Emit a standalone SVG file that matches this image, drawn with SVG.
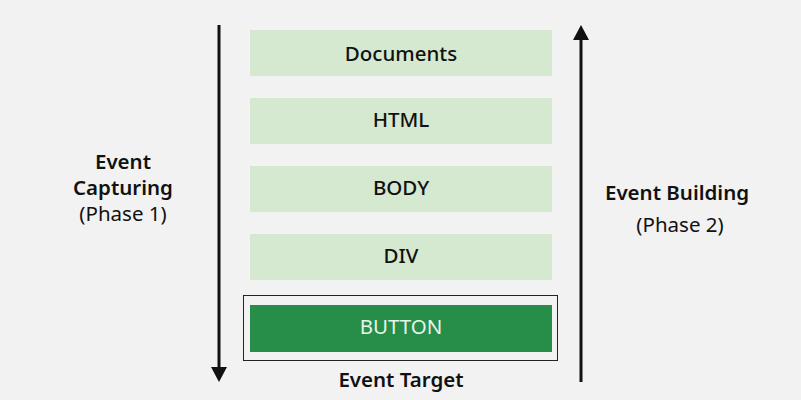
<svg xmlns="http://www.w3.org/2000/svg" width="801" height="400" viewBox="0 0 801 400">
<style>
.box{fill:#d5e8d0}
.t{font-family:"Noto Sans","Open Sans",sans-serif;font-size:20.5px;fill:#111;text-anchor:middle;font-weight:500}
.b{font-weight:600}
.n{font-weight:400}
.ln{stroke:#111;stroke-width:3;fill:none}
</style>
<rect width="801" height="400" fill="#f2f2f2"/>
<g id="connectors">
<line class="ln" x1="219" y1="25" x2="219" y2="368"/>
<polygon points="211,367 227,367 219,382" fill="#111"/>
<line class="ln" x1="581" y1="382" x2="581" y2="39"/>
<polygon points="573,40 589,40 581,25" fill="#111"/>
</g>
<g id="documents"><rect class="box" x="250" y="30" width="302" height="46"/><text class="t" x="401" y="61">Documents</text></g>
<g id="html"><rect class="box" x="250" y="98" width="302" height="46"/><text class="t" x="401" y="127">HTML</text></g>
<g id="body"><rect class="box" x="250" y="166" width="302" height="46"/><text class="t" x="401" y="195">BODY</text></g>
<g id="div"><rect class="box" x="250" y="234" width="302" height="46"/><text class="t" x="401" y="263">DIV</text></g>
<g id="button">
<rect x="243.5" y="295.5" width="314" height="65" fill="none" stroke="#222" stroke-width="1"/>
<rect x="250" y="305" width="302" height="47" fill="#268e49"/>
<text class="t n" x="401" y="334" style="fill:#e8f5ea">BUTTON</text>
<text class="t b" x="401" y="387">Event Target</text>
</g>
<g id="capturing">
<text class="t b" x="123" y="169">Event</text>
<text class="t b" x="123" y="195">Capturing</text>
<text class="t n" x="123" y="221">(Phase 1)</text>
</g>
<g id="bubbling">
<text class="t b" x="677" y="200">Event Building</text>
<text class="t n" x="680" y="232">(Phase 2)</text>
</g>
</svg>
